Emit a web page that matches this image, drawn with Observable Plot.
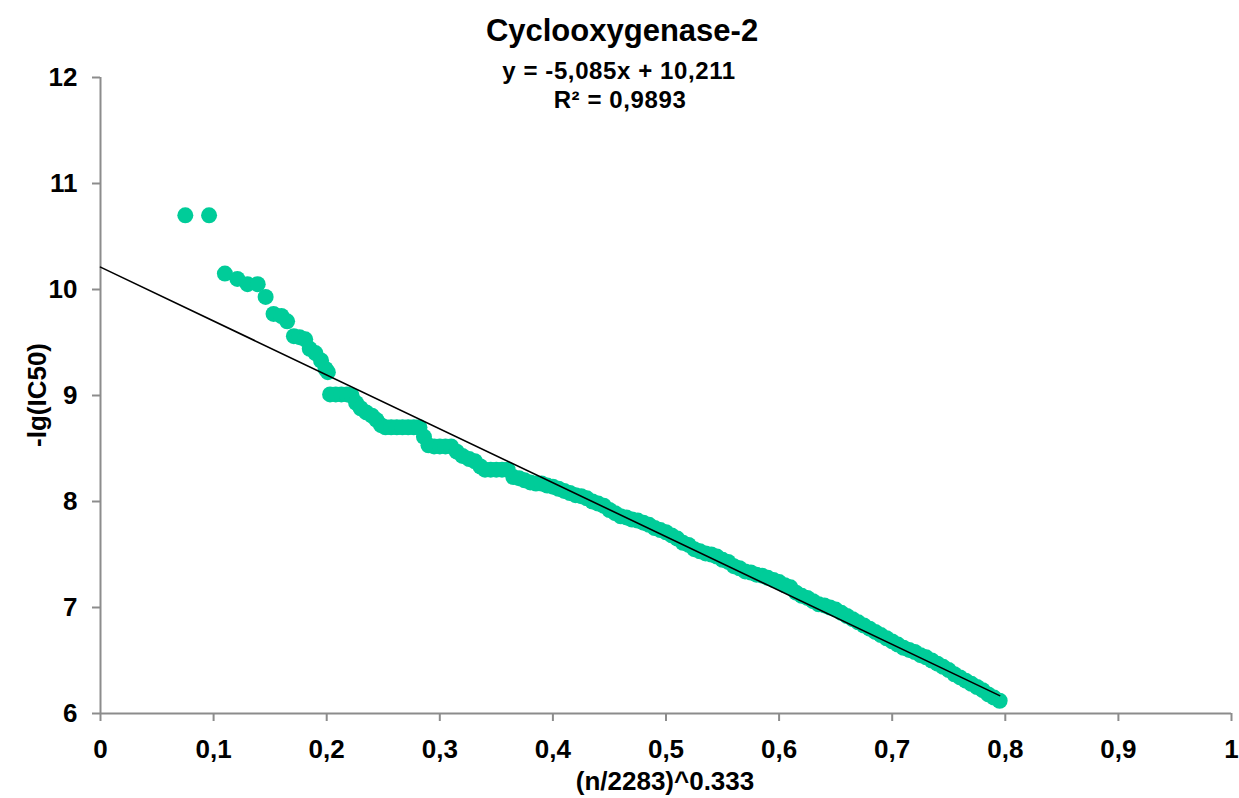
<!DOCTYPE html>
<html>
<head>
<meta charset="utf-8">
<script src="https://cdn.jsdelivr.net/npm/d3@7"></script>
<script src="https://cdn.jsdelivr.net/npm/@observablehq/plot@0.6"></script>
<style>
  html, body { margin: 0; padding: 0; background: #fff; }
  #wrap { position: relative; width: 1239px; height: 798px; font-family: "Liberation Sans", Arial, sans-serif; font-weight: bold; color: #000; }
  .lbl { position: absolute; white-space: nowrap; transform: translateX(-50%); text-align: center; }
  #title { left: 622px; top: 15px; font-size: 31px; line-height: 31px; }
  #eq1 { left: 619px; top: 59px; font-size: 24px; line-height: 24px; letter-spacing: 0.6px; }
  #eq2 { left: 620px; top: 88px; font-size: 24px; line-height: 24px; letter-spacing: 0.6px; }
  #xtitle { left: 665px; top: 768px; font-size: 26px; line-height: 26px; }
  #ytitle { left: 37px; top: 395px; font-size: 26px; line-height: 26px; transform: translate(-50%, -50%) rotate(-90deg); }
  svg text { font-weight: bold; }
</style>
</head>
<body>
<div id="wrap">
  <div id="chart"></div>
  <div class="lbl" id="title">Cyclooxygenase-2</div>
  <div class="lbl" id="eq1">y = -5,085x + 10,211</div>
  <div class="lbl" id="eq2">R² = 0,9893</div>
  <div class="lbl" id="xtitle">(n/2283)^0.333</div>
  <div class="lbl" id="ytitle">-lg(IC50)</div>
</div>
<script>
// Points: x = (n/2283)^0.333, y = -lg(IC50)
const xValues = [
  0.075, 0.096, 0.110, 0.121, 0.130, 0.139, 0.146, 0.153, 0.160, 0.165,
  0.171, 0.176, 0.181, 0.185, 0.190, 0.195, 0.199, 0.201, 0.203, 0.208,
  0.213, 0.218, 0.222, 0.226, 0.230, 0.235, 0.240, 0.244, 0.248, 0.252,
  0.257, 0.262, 0.267, 0.272, 0.277, 0.282, 0.286, 0.290, 0.295, 0.300,
  0.305, 0.310, 0.315, 0.320, 0.326, 0.331, 0.336, 0.340, 0.345, 0.350,
  0.355, 0.360, 0.365, 0.370, 0.375, 0.380, 0.385, 0.390, 0.395, 0.400,
  0.405, 0.410, 0.415, 0.420, 0.425, 0.430, 0.435, 0.440, 0.445, 0.450,
  0.455, 0.460, 0.465, 0.470, 0.475, 0.480, 0.485, 0.490, 0.495, 0.500,
  0.505, 0.510, 0.515, 0.520, 0.525, 0.530, 0.535, 0.540, 0.545, 0.550,
  0.555, 0.560, 0.565, 0.570, 0.575, 0.580, 0.585, 0.590, 0.595, 0.600,
  0.605, 0.610, 0.615, 0.620, 0.625, 0.630, 0.635, 0.640, 0.645, 0.650,
  0.655, 0.660, 0.665, 0.670, 0.675, 0.680, 0.685, 0.690, 0.695, 0.700,
  0.705, 0.710, 0.715, 0.720, 0.725, 0.730, 0.735, 0.740, 0.745, 0.750,
  0.755, 0.760, 0.765, 0.770, 0.775, 0.780, 0.785, 0.790, 0.795
];
const yValues = [
  10.70, 10.70, 10.15, 10.10, 10.05, 10.05, 9.93, 9.77, 9.75, 9.70,
  9.56, 9.55, 9.53, 9.44, 9.40, 9.33, 9.25, 9.22, 9.01, 9.01,
  9.01, 9.01, 9.00, 8.93, 8.88, 8.84, 8.81, 8.77, 8.72, 8.70,
  8.70, 8.70, 8.70, 8.70, 8.70, 8.70, 8.61, 8.53, 8.52, 8.52,
  8.52, 8.52, 8.47, 8.43, 8.40, 8.38, 8.33, 8.30, 8.30, 8.30,
  8.30, 8.30, 8.23, 8.22, 8.20, 8.18, 8.17, 8.17, 8.15, 8.14,
  8.12, 8.10, 8.08, 8.06, 8.05, 8.03, 8.00, 7.98, 7.96, 7.92,
  7.89, 7.86, 7.85, 7.83, 7.82, 7.80, 7.78, 7.75, 7.73, 7.71,
  7.68, 7.65, 7.61, 7.59, 7.55, 7.53, 7.51, 7.50, 7.48, 7.45,
  7.43, 7.39, 7.37, 7.34, 7.33, 7.31, 7.30, 7.28, 7.26, 7.24,
  7.21, 7.19, 7.14, 7.11, 7.09, 7.06, 7.03, 7.02, 7.00, 6.98,
  6.95, 6.92, 6.89, 6.86, 6.83, 6.80, 6.77, 6.74, 6.71, 6.68,
  6.65, 6.62, 6.60, 6.58, 6.55, 6.53, 6.50, 6.47, 6.44, 6.41,
  6.37, 6.34, 6.31, 6.28, 6.25, 6.22, 6.18, 6.15, 6.12
];

// Trend line given on the chart
const trendSlope = -5.085;
const trendIntercept = 10.211;

// Axis ticks
const xTicks = [0, 0.1, 0.2, 0.3, 0.4, 0.5, 0.6, 0.7, 0.8, 0.9, 1];
const xTickLabels = ["0", "0,1", "0,2", "0,3", "0,4", "0,5", "0,6", "0,7", "0,8", "0,9", "1"];
const yTicks = [6, 7, 8, 9, 10, 11, 12];
const yTickLabels = ["6", "7", "8", "9", "10", "11", "12"];

const points = xValues.map((x, i) => ({x, y: yValues[i]}));
const trendEnds = [0, d3.max(xValues)].map(x => ({x, y: trendIntercept + trendSlope * x}));

const axisGray = "#8c8c8c";

const chart = Plot.plot({
  width: 1239,
  height: 798,
  marginLeft: 100,
  marginRight: 8,
  marginTop: 77,
  marginBottom: 85,
  style: {fontFamily: "'Liberation Sans', Arial, sans-serif", fontSize: "26px", fontWeight: "bold", color: "#000", background: "#fff"},
  x: {domain: [0, 1]},
  y: {domain: [6, 12]},
  marks: [
    Plot.axisX({ticks: xTicks, tickFormat: d => xTickLabels[xTicks.indexOf(d)], tickSize: 8, tickPadding: 18, stroke: axisGray, strokeWidth: 2, fill: "#000", label: null, fontSize: 26, fontWeight: "bold"}),
    Plot.axisY({ticks: yTicks, tickFormat: d => yTickLabels[yTicks.indexOf(d)], tickSize: 8, tickPadding: 15, stroke: axisGray, strokeWidth: 2, fill: "#000", label: null, fontSize: 26, fontWeight: "bold"}),
    Plot.ruleX([0], {stroke: axisGray, strokeWidth: 2}),
    Plot.ruleY([6], {stroke: axisGray, strokeWidth: 2}),
    Plot.dot(points, {x: "x", y: "y", r: 8, fill: "#00cc99", stroke: null}),
    Plot.line(trendEnds, {x: "x", y: "y", stroke: "#000", strokeWidth: 1.6})
  ]
});
document.getElementById("chart").appendChild(chart);
</script>
</body>
</html>
